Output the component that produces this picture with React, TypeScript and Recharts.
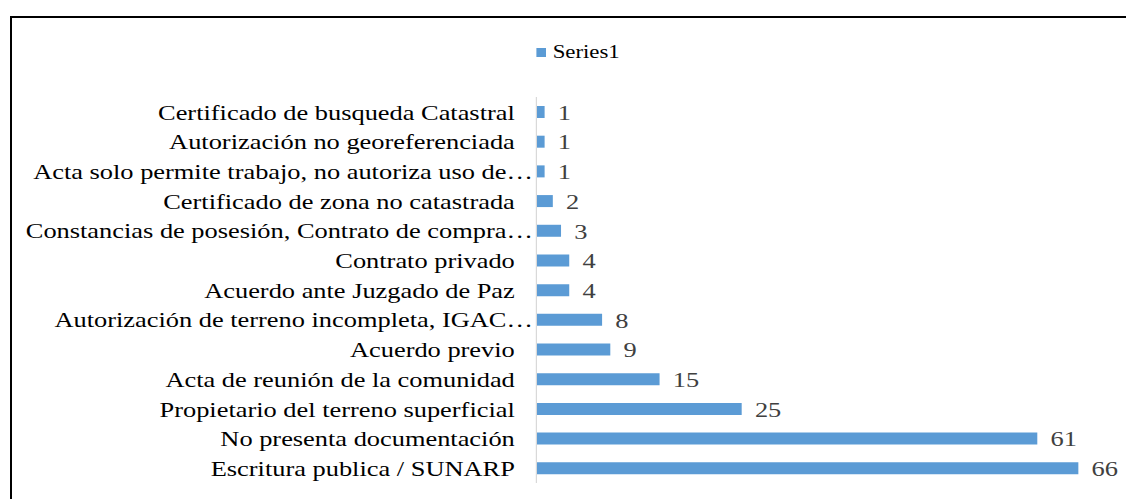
import React from 'react';
import { BarChart, Bar, XAxis, YAxis, Legend, LabelList } from 'recharts';

const SERIES_NAME = 'Series1';

const categories: string[] = [
  'Certificado de busqueda Catastral',
  'Autorización no georeferenciada',
  'Acta solo permite trabajo, no autoriza uso de…',
  'Certificado de zona no catastrada',
  'Constancias de posesión, Contrato de compra…',
  'Contrato privado',
  'Acuerdo ante Juzgado de Paz',
  'Autorización de terreno incompleta, IGAC…',
  'Acuerdo previo',
  'Acta de reunión de la comunidad',
  'Propietario del terreno superficial',
  'No presenta documentación',
  'Escritura publica / SUNARP',
];

const values: number[] = [1, 1, 1, 2, 3, 4, 4, 8, 9, 15, 25, 61, 66];

const valueDomain: [number, number] = [0, 70];

const data = categories.map((category, i) => ({ category, value: values[i] }));

const FONT = '"Liberation Serif", "Times New Roman", serif';

const CategoryTick = (props: any) => {
  const { x, y, payload } = props;
  const label = String(payload.value);
  const shift = label.endsWith('…') ? 15 : 0;
  return (
    <text
      x={x + shift}
      y={y}
      dy="0.355em"
      textAnchor="end"
      fontSize={22}
      fontFamily={FONT}
      fill="#000"
    >
      {label}
    </text>
  );
};

const renderLegend = (props: any) => {
  const { payload } = props;
  return (
    <div
      style={{
        display: 'flex',
        justifyContent: 'center',
        alignItems: 'center',
        height: 24,
        fontFamily: FONT,
        fontSize: 19,
        color: '#000',
      }}
    >
      {(payload || []).map((entry: any, i: number) => (
        <span key={i} style={{ display: 'flex', alignItems: 'center' }}>
          <span
            style={{
              display: 'inline-block',
              width: 8,
              height: 9,
              background: entry.color,
              marginRight: 6,
            }}
          />
          <span>{entry.value}</span>
        </span>
      ))}
    </div>
  );
};

export default function App() {
  return (
    <div
      style={{
        position: 'absolute',
        left: 0,
        top: 0,
        width: 1126,
        height: 499,
        overflow: 'hidden',
        background: '#fff',
      }}
    >
      <div
        style={{
          position: 'absolute',
          left: 10,
          top: 16,
          width: 1300,
          height: 700,
          borderTop: '2px solid #000',
          borderLeft: '2px solid #000',
        }}
      />
      <div
        style={{
          position: 'absolute',
          left: 0,
          top: 0,
          transform: 'scaleX(1.2)',
          transformOrigin: '0 0',
        }}
      >
        <BarChart
          width={938}
          height={499}
          layout="vertical"
          data={data}
          margin={{ top: 97, right: 12, bottom: 16, left: 0 }}
        >
          <XAxis type="number" domain={valueDomain} hide />
          <YAxis
            type="category"
            dataKey="category"
            width={447}
            axisLine={{ stroke: '#d9d9d9', strokeWidth: 1 }}
            tickLine={false}
            tickSize={6}
            tickMargin={12}
            interval={0}
            tick={<CategoryTick />}
          />
          <Legend
            verticalAlign="middle"
            align="center"
            layout="horizontal"
            wrapperStyle={{ top: 40, left: 0, width: 963, height: 24 }}
            content={renderLegend}
          />
          <Bar
            dataKey="value"
            name={SERIES_NAME}
            fill="#5b9bd5"
            barSize={12}
            isAnimationActive={false}
          >
            <LabelList
              dataKey="value"
              position="right"
              offset={11}
              fill="#404040"
              fontSize={22}
              fontFamily={FONT}
            />
          </Bar>
        </BarChart>
      </div>
    </div>
  );
}
